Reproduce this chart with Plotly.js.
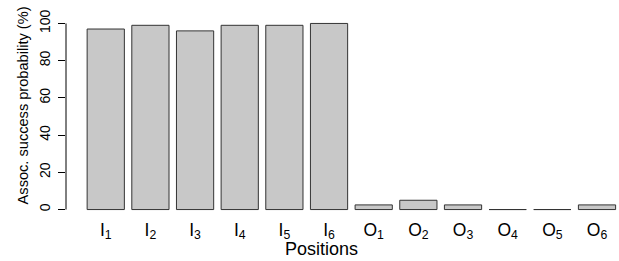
<!DOCTYPE html>
<html><head><meta charset="utf-8">
<script src="https://cdn.plot.ly/plotly-3.0.1.min.js"></script>
<style>html,body{margin:0;padding:0;background:#fff;}#chart{width:619px;height:261px;}</style>
</head><body><div id="chart"></div>
<script>
var positions = ["I1","I2","I3","I4","I5","I6","O1","O2","O3","O4","O5","O6"];
var positionLabels = ["I<sub>1</sub>","I<sub>2</sub>","I<sub>3</sub>","I<sub>4</sub>","I<sub>5</sub>","I<sub>6</sub>",
  "O<sub>1</sub>","O<sub>2</sub>","O<sub>3</sub>","O<sub>4</sub>","O<sub>5</sub>","O<sub>6</sub>"];
var successProb = [97, 99, 96, 99, 99, 100, 2.5, 5, 2.5, 0, 0, 2.5];
var yTicks = [0, 20, 40, 60, 80, 100];

// R barplot geometry: width 1, space 0.2
var xs = positions.map(function(_, i){ return 0.7 + 1.2 * i; });

var font = "Liberation Sans, Arial, Helvetica, sans-serif";
var trace = {
  type: "bar", x: xs, y: successProb, width: 1,
  marker: {color: "#c8c8c8", line: {color: "#333333", width: 1}},
  hoverinfo: "none"
};
var layout = {
  width: 619, height: 261,
  margin: {l: 65.5, r: 0, t: 15.8, b: 43.5},
  paper_bgcolor: "#fff", plot_bgcolor: "#fff",
  showlegend: false,
  font: {family: font, color: "#000"},
  xaxis: {
    range: [-0.368, 14.491], showgrid: false, zeroline: false, showline: false,
    tickmode: "array", tickvals: xs, ticktext: positionLabels, ticks: "",
    tickfont: {size: 17.5, family: font}, ticklabelstandoff: 0
  },
  yaxis: {
    range: [-4, 104], showgrid: false, zeroline: false, showline: false,
    tickmode: "array", tickvals: yTicks, ticktext: yTicks.map(String),
    ticks: "outside", ticklen: 7, tickcolor: "#000", tickwidth: 1,
    tickangle: -90, tickfont: {size: 14, family: font}, ticklabelstandoff: 2
  },
  shapes: [{type: "line", xref: "paper", x0: 0, x1: 0, yref: "y", y0: 0, y1: 100,
            line: {color: "#000", width: 1}}],
  annotations: [
    {text: "Positions", xref: "paper", yref: "paper", x: 0.4616, y: -0.16, xanchor: "center", yanchor: "middle",
     showarrow: false, font: {size: 18, family: font}},
    {text: "Assoc. success probability (%)", xref: "paper", yref: "paper", x: -0.0786, y: 0.553,
     xanchor: "center", yanchor: "middle", textangle: -90, showarrow: false, font: {size: 14.6, family: font}}
  ]
};
Plotly.newPlot("chart", [trace], layout, {displayModeBar: false, staticPlot: true});
</script></body></html>
